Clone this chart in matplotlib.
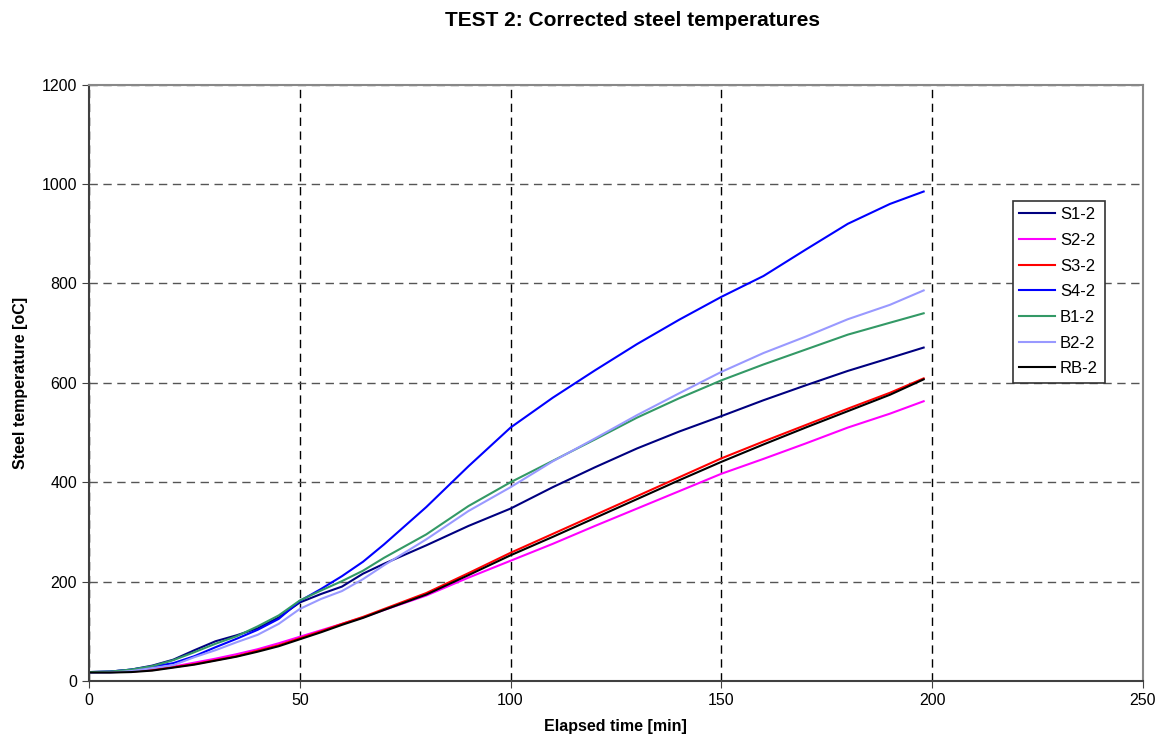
import matplotlib
matplotlib.use("Agg")
import matplotlib.pyplot as plt

plt.rcParams['font.family'] = ['Liberation Sans', 'DejaVu Sans']

# elapsed time [min]
t = [0, 5, 10, 15, 20, 25, 30, 35, 40, 45, 50, 55, 60, 65, 70, 80, 90,
     100, 110, 120, 130, 140, 150, 160, 170, 180, 190, 198]

s1 = [18, 19, 23, 31, 43, 62, 80, 92, 106, 128, 158, 175, 190, 216, 236, 273, 312,
      347, 390, 430, 468, 502, 533, 565, 595, 624, 650, 671]
s2 = [18, 18, 19, 23, 29, 37, 45, 54, 64, 76, 89, 102, 115, 128, 143, 172, 208,
      242, 276, 312, 347, 382, 417, 447, 478, 510, 538, 563]
s3 = [18, 18, 19, 22, 28, 34, 42, 50, 61, 72, 86, 100, 115, 129, 145, 177, 217,
      258, 296, 334, 372, 410, 448, 482, 515, 548, 580, 609]
s4 = [18, 19, 23, 29, 36, 50, 68, 85, 103, 125, 161, 185, 211, 240, 275, 350, 432,
      510, 570, 625, 678, 727, 773, 815, 868, 920, 960, 985]
b1 = [18, 19, 23, 30, 42, 58, 75, 90, 110, 132, 162, 182, 201, 222, 248, 295, 352,
      400, 443, 486, 530, 569, 605, 637, 667, 697, 721, 740]
b2 = [16, 17, 20, 26, 32, 48, 62, 78, 93, 115, 145, 165, 181, 205, 233, 285, 342,
      390, 442, 488, 535, 579, 622, 660, 693, 728, 757, 786]
rb = [17, 17, 18, 21, 27, 33, 41, 49, 59, 70, 84, 98, 113, 127, 143, 174, 213,
      253, 290, 328, 366, 404, 441, 476, 510, 543, 576, 607]

series = [
    ('S1-2', s1, '#000080'),
    ('S2-2', s2, '#FF00FF'),
    ('S3-2', s3, '#FF0000'),
    ('S4-2', s4, '#0000FF'),
    ('B1-2', b1, '#339966'),
    ('B2-2', b2, '#9999FF'),
    ('RB-2', rb, '#000000'),
]

fig = plt.figure(figsize=(11.65, 7.46), dpi=100)
ax = fig.add_axes([0.0764, 0.0871, 0.9046, 0.7994])

for name, vals, col in series:
    ax.plot(t, vals, color=col, linewidth=1.5, label=name)

ax.set_xlim(0, 250)
ax.set_ylim(0, 1200)
ax.set_xticks(range(0, 251, 50))
ax.set_yticks(range(0, 1201, 200))
ax.tick_params(direction='out', length=5, labelsize=11.5, color='#404040')

ax.xaxis.grid(True, color='black', linestyle=(0, (6, 4)), linewidth=1)
ax.yaxis.grid(True, color='#555555', linestyle=(0, (6, 4)), linewidth=1)
ax.set_axisbelow(True)

for side in ['top', 'right']:
    ax.spines[side].set_color('#888888')
    ax.spines[side].set_linewidth(1.5)
for side in ['left', 'bottom']:
    ax.spines[side].set_color('#404040')
    ax.spines[side].set_linewidth(1.5)

ax.set_xlabel('Elapsed time [min]', fontsize=11.5, fontweight='bold', labelpad=8)
ax.set_ylabel('Steel temperature [oC]', fontsize=11.5, fontweight='bold', labelpad=10)
fig.text(0.5425, 0.972, 'TEST 2: Corrected steel temperatures', fontsize=15,
         fontweight='bold', ha='center', va='center')

leg = ax.legend(loc='upper left', bbox_to_anchor=(0.8764, 0.8055), fontsize=12,
                frameon=True, fancybox=False, framealpha=1, edgecolor='#333333',
                handlelength=2.15, handletextpad=0.3, labelspacing=0.64,
                borderpad=0.4, borderaxespad=0)
leg.get_frame().set_linewidth(1.2)

fig.savefig('out.png', dpi=100)
